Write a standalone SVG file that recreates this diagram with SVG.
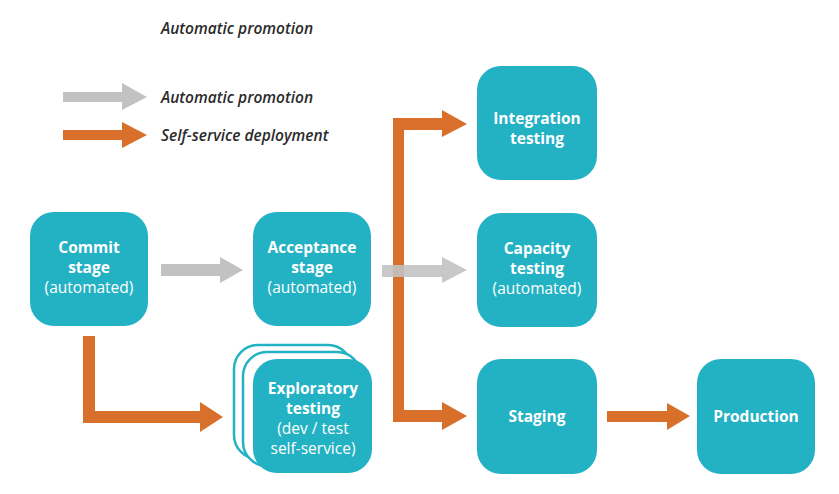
<svg xmlns="http://www.w3.org/2000/svg" width="839" height="494" viewBox="0 0 839 494">
<style>
.node{fill:#23b1c4}
.back{fill:#ffffff;stroke:#23b1c4;stroke-width:2.5}
.t{font-family:"Open Sans","Liberation Sans",sans-serif;font-size:15.5px;fill:#ffffff;text-anchor:middle}
.b{font-weight:bold}
.leg{font-family:"Open Sans","Liberation Sans",sans-serif;font-size:15.5px;font-style:italic;font-weight:600;fill:#2b2b2b}
.gray{fill:#c2c2c2}
.orange{fill:#d8702b}
</style>
<rect width="839" height="494" fill="#ffffff"/>
<g id="legend">
<text class="leg" x="161" y="34">Automatic promotion</text>
<polygon class="gray" points="63,92 122,92 122,83 147,97 122,110 122,102 63,102"/>
<text class="leg" x="161" y="103">Automatic promotion</text>
<polygon class="orange" points="63,130 122,130 122,122 147,135 122,148 122,140 63,140"/>
<text class="leg" x="161" y="141">Self-service deployment</text>
</g>
<g id="connectors">
<polygon class="gray" points="161,264 220,264 220,257 243,270 220,283 220,276 161,276"/>
<polygon class="orange" points="83,336 95,336 95,411 200,411 200,402 223,417 200,432 200,423 83,423"/>
<polygon class="orange" points="393,118 442,118 442,110 467,124 442,137 442,130 404,130 404,410 442,410 442,402 467,416 442,430 442,422 393,422"/>
<polygon class="gray" points="382,265 442,265 442,257 467,270 442,283 442,277 382,277" opacity="0.9"/>
<polygon class="orange" points="607,411 667,411 667,403 690,416 667,430 667,422 607,422"/>
</g>
<g id="commit">
<rect class="node" x="30" y="212" width="118" height="114" rx="24"/>
<text class="t b" x="89" y="253">Commit</text>
<text class="t b" x="89" y="273">stage</text>
<text class="t" x="89" y="293">(automated)</text>
</g>
<g id="acceptance">
<rect class="node" x="253" y="212" width="118" height="114" rx="24"/>
<text class="t b" x="312" y="253">Acceptance</text>
<text class="t b" x="312" y="273">stage</text>
<text class="t" x="312" y="293">(automated)</text>
</g>
<g id="exploratory">
<rect class="back" x="234" y="345" width="118" height="114" rx="24"/>
<rect class="back" x="243" y="352" width="118" height="114" rx="24"/>
<rect class="node" x="253" y="359" width="119" height="114" rx="24"/>
<text class="t b" x="313" y="394">Exploratory</text>
<text class="t b" x="313" y="414">testing</text>
<text class="t" x="313" y="434">(dev / test</text>
<text class="t" x="313" y="454">self-service)</text>
</g>
<g id="integration">
<rect class="node" x="477" y="66" width="120" height="114" rx="24"/>
<text class="t b" x="537" y="124">Integration</text>
<text class="t b" x="537" y="144">testing</text>
</g>
<g id="capacity">
<rect class="node" x="477" y="213" width="120" height="114" rx="24"/>
<text class="t b" x="537" y="254">Capacity</text>
<text class="t b" x="537" y="274">testing</text>
<text class="t" x="537" y="294">(automated)</text>
</g>
<g id="staging">
<rect class="node" x="477" y="359" width="120" height="115" rx="24"/>
<text class="t b" x="537" y="422">Staging</text>
</g>
<g id="production">
<rect class="node" x="697" y="359" width="118" height="115" rx="24"/>
<text class="t b" x="756" y="422">Production</text>
</g>
</svg>
